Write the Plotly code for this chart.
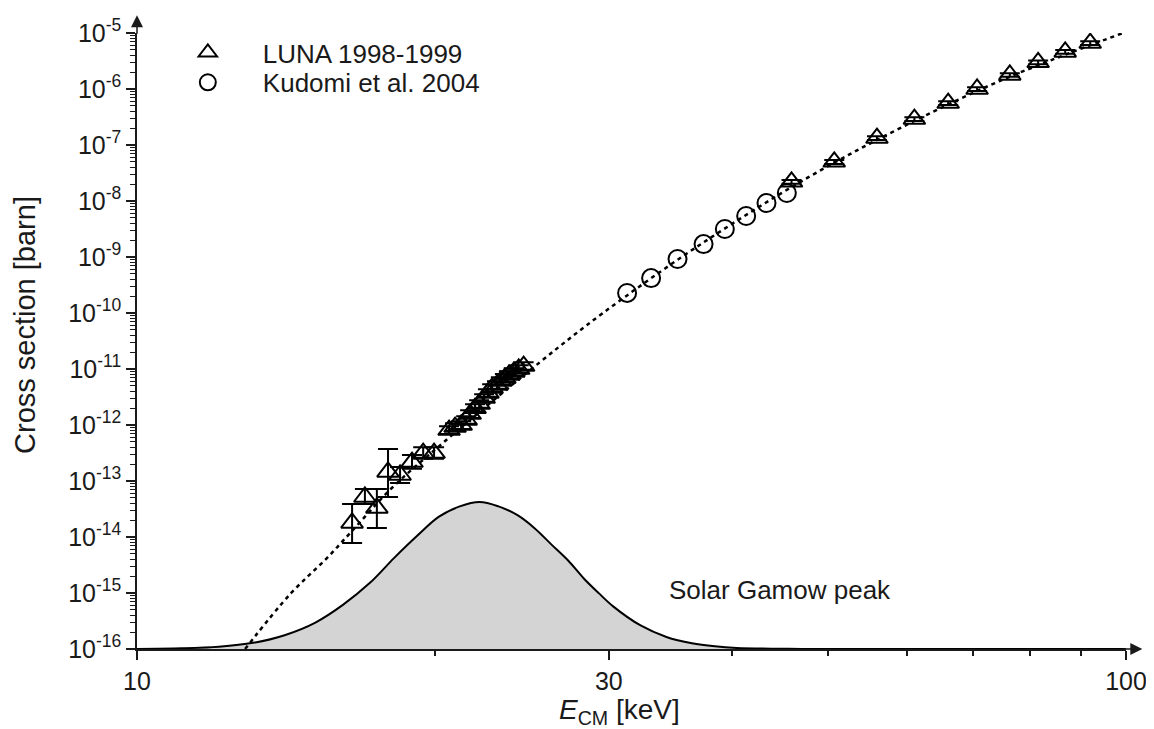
import plotly.graph_objects as go

# ---------------- data ----------------
luna_E = [16.50, 17.00, 17.48, 17.94, 18.45, 18.97, 19.47, 19.97,
          20.68, 20.97, 21.27, 21.52, 21.72, 21.97, 22.18, 22.44, 22.64,
          22.86, 23.12, 23.33, 23.55, 23.77, 24.04, 24.32, 24.60,
          45.9, 50.7, 56.0, 61.1, 66.1, 70.7, 76.3, 81.5, 86.8, 92.0]
luna_sigma = [1.78e-14, 5.18e-14, 3.30e-14, 1.45e-13, 1.28e-13, 2.18e-13, 3.16e-13, 3.16e-13,
              8.1e-13, 9.2e-13, 1.0e-12, 1.23e-12, 1.57e-12, 2.0e-12, 2.37e-12, 3.03e-12, 3.73e-12,
              4.58e-12, 5.18e-12, 6.1e-12, 6.9e-12, 7.8e-12, 8.8e-12, 1.0e-11, 1.13e-11,
              2.2e-8, 5.0e-8, 1.33e-7, 2.9e-7, 5.6e-7, 1.0e-6, 1.78e-6, 3.0e-6, 4.6e-6, 6.6e-6]
luna_hi = [3.88e-14, 7.2e-14, 7.2e-14, 3.73e-13, 1.78e-13, 2.9e-13, 4.0e-13, 4.0e-13,
           9.5e-13, 1.08e-12, 1.17e-12, 1.44e-12, 1.84e-12, 2.34e-12, 2.77e-12, 3.55e-12, 4.36e-12,
           5.36e-12, 6.06e-12, 7.1e-12, 8.1e-12, 9.1e-12, 1.03e-11, 1.17e-11, 1.32e-11,
           2.38e-8, 5.4e-8, 1.44e-7, 3.13e-7, 6.05e-7, 1.08e-6, 1.92e-6, 3.24e-6, 4.97e-6, 7.13e-6]
luna_lo = [7.8e-15, 3.88e-14, 1.45e-14, 5.18e-14, 9.2e-14, 1.65e-13, 2.5e-13, 2.5e-13,
           6.9e-13, 7.9e-13, 8.5e-13, 1.05e-12, 1.34e-12, 1.71e-12, 2.03e-12, 2.59e-12, 3.19e-12,
           3.91e-12, 4.43e-12, 5.2e-12, 5.9e-12, 6.7e-12, 7.5e-12, 8.5e-12, 9.7e-12,
           2.04e-8, 4.6e-8, 1.23e-7, 2.68e-7, 5.18e-7, 0.925e-6, 1.65e-6, 2.78e-6, 4.26e-6, 6.1e-6]

kudomi_E = [31.3, 33.1, 35.2, 37.4, 39.3, 41.3, 43.3, 45.4]
kudomi_sigma = [2.28e-10, 4.2e-10, 9.2e-10, 1.7e-9, 3.16e-9, 5.4e-9, 9.2e-9, 1.39e-8]

fit_E = [12.86, 14.28, 15.56, 16.42, 18.10, 20.39, 25.56, 29.59, 37.1, 47.6, 59.1, 74.6, 99.3]
fit_sigma = [1.0e-16, 9.5e-16, 4.2e-15, 1.17e-14, 7.5e-14, 4.8e-13, 1.33e-11, 1.0e-10,
             1.66e-9, 2.58e-8, 2.0e-7, 1.4e-6, 1.0e-5]

gamow_E = [10.0, 11.1, 12.1, 13.1, 14.1, 15.15, 16.15, 17.2, 18.2, 19.2, 20.2, 21.2, 22.2,
           23.2, 24.25, 25.25, 26.25, 27.3, 28.3, 29.3, 30.3, 32.3, 34.3, 36.4, 38.4, 40.4,
           45.5, 50.5, 100]
gamow_rel = [0.0008, 0.005, 0.016, 0.042, 0.094, 0.18, 0.30, 0.45, 0.62, 0.77, 0.90, 0.97,
             1.0, 0.97, 0.91, 0.82, 0.71, 0.60, 0.48, 0.38, 0.29, 0.16, 0.082, 0.039,
             0.018, 0.0075, 0.001, 0.0, 0.0]

x_major = [10, 30, 100]
x_minor = [20, 40, 50, 60, 70, 80, 90]
y_exponents = list(range(-16, -4))
y_major = [10.0 ** e for e in y_exponents]
y_major_text = ["10<sup>%d</sup>" % e for e in y_exponents]
y_minor = [k * 10.0 ** e for e in range(-16, -5) for k in range(2, 10)]

# ---------------- figure ----------------
FONT = "Liberation Sans, Arial, sans-serif"
INK = "#1a1a1a"

fig = go.Figure()

# Gamow peak (relative units, hidden linear axis)
fig.add_trace(go.Scatter(
    x=gamow_E, y=gamow_rel, xaxis="x", yaxis="y",
    mode="lines", line=dict(color="black", width=2, shape="spline"),
    fill="tozeroy", fillcolor="#d4d4d4", showlegend=False, hoverinfo="skip"))

# fit (dotted)
fig.add_trace(go.Scatter(
    x=fit_E, y=fit_sigma, xaxis="x", yaxis="y2",
    mode="lines", line=dict(color="black", width=2.5, dash="4px,4px", shape="spline"),
    showlegend=False, hoverinfo="skip"))

err_plus = [h - s for h, s in zip(luna_hi, luna_sigma)]
err_minus = [s - l for s, l in zip(luna_sigma, luna_lo)]
fig.add_trace(go.Scatter(
    x=luna_E, y=luna_sigma, xaxis="x", yaxis="y2",
    mode="markers", name="LUNA 1998-1999", legend="legend",
    marker=dict(symbol="triangle-up-open", size=19, color="black", line=dict(width=2)),
    error_y=dict(type="data", symmetric=False, array=err_plus, arrayminus=err_minus,
                 color="black", thickness=2, width=10)))

fig.add_trace(go.Scatter(
    x=kudomi_E, y=kudomi_sigma, xaxis="x", yaxis="y2",
    mode="markers", name="Kudomi et al. 2004", legend="legend2",
    marker=dict(symbol="circle-open", size=18, color="black", line=dict(width=2))))

tickfont = dict(family=FONT, size=25, color=INK)
legfont = dict(family=FONT, size=26, color=INK)

# page body has an 8px margin, so the figure is 8px smaller than the window
fig.update_layout(
    width=1146, height=721,
    margin=dict(l=129, r=28, t=25, b=80, autoexpand=False),
    paper_bgcolor="white", plot_bgcolor="white",
    font=dict(family=FONT, color=INK),
    xaxis=dict(type="log", range=[1, 2], tickmode="array", tickvals=x_major,
               ticktext=["10", "30", "100"], ticks="outside", ticklen=9, tickwidth=1.5,
               tickcolor=INK, showline=True, linecolor=INK, linewidth=1.5,
               showgrid=False, zeroline=False, tickfont=tickfont, automargin=False,
               minor=dict(tickmode="array", tickvals=x_minor, ticks="outside", ticklen=5,
                          tickwidth=1.5, tickcolor=INK, showgrid=False)),
    xaxis2=dict(type="log", range=[1, 2], overlaying="x", anchor="y2", side="bottom",
                tickmode="array", tickvals=x_major, ticks="inside", ticklen=9, tickwidth=1.5,
                tickcolor=INK, showticklabels=False, showline=False, showgrid=False,
                zeroline=False, automargin=False,
                minor=dict(tickmode="array", tickvals=x_minor, ticks="inside", ticklen=5,
                           tickwidth=1.5, tickcolor=INK, showgrid=False)),
    yaxis=dict(range=[0, 616 / 147], visible=False, fixedrange=True, automargin=False),
    yaxis2=dict(type="log", range=[-16, -5], overlaying="y", anchor="x", side="left",
                tickmode="array", tickvals=y_major, ticktext=y_major_text,
                ticks="outside", ticklen=9, tickwidth=1.5, tickcolor=INK,
                showline=True, linecolor=INK, linewidth=1.5, showgrid=False, zeroline=False,
                tickfont=tickfont, automargin=False,
                minor=dict(tickmode="array", tickvals=y_minor, ticks="outside", ticklen=5,
                           tickwidth=1.2, tickcolor=INK, showgrid=False)),
    yaxis3=dict(type="log", range=[-16, -5], overlaying="y", anchor="x", side="left",
                tickmode="array", tickvals=y_major, ticks="inside", ticklen=9, tickwidth=1.5,
                tickcolor=INK, showticklabels=False, showline=False, showgrid=False,
                zeroline=False, automargin=False,
                minor=dict(tickmode="array", tickvals=y_minor, ticks="inside", ticklen=5,
                           tickwidth=1.2, tickcolor=INK, showgrid=False)),
    legend=dict(x=0.016, y=1.0065, xanchor="left", yanchor="top", font=legfont,
                bgcolor="rgba(0,0,0,0)", itemwidth=100),
    legend2=dict(x=0.016, y=0.958, xanchor="left", yanchor="top", font=legfont,
                 bgcolor="rgba(0,0,0,0)", itemwidth=100),
    showlegend=True,
)

# axis titles
fig.add_annotation(text="<i>E</i><sub>CM</sub> [keV]", x=0.488, y=-0.102,
                   xref="paper", yref="paper", xanchor="center", yanchor="middle",
                   showarrow=False, font=dict(family=FONT, size=28, color=INK))
fig.add_annotation(text="Cross section [barn]", x=-0.1133, y=0.526, textangle=-90,
                   xref="paper", yref="paper", xanchor="center", yanchor="middle",
                   showarrow=False, font=dict(family=FONT, size=29, color=INK))

fig.add_annotation(text="Solar Gamow peak", x=1.650, y=-14.95, xref="x", yref="y2",
                   showarrow=False, font=dict(family=FONT, size=26, color=INK))

# axis arrows
fig.add_annotation(text="", x=1.0165, y=0, xref="paper", yref="paper",
                   ax=-20, ay=0, showarrow=True, arrowhead=2, arrowsize=1.6,
                   arrowwidth=1.5, arrowcolor=INK, standoff=0)
fig.add_annotation(text="", x=0, y=1.029, xref="paper", yref="paper",
                   ax=0, ay=20, showarrow=True, arrowhead=2, arrowsize=1.6,
                   arrowwidth=1.5, arrowcolor=INK, standoff=0)

fig.write_html("out.html")
